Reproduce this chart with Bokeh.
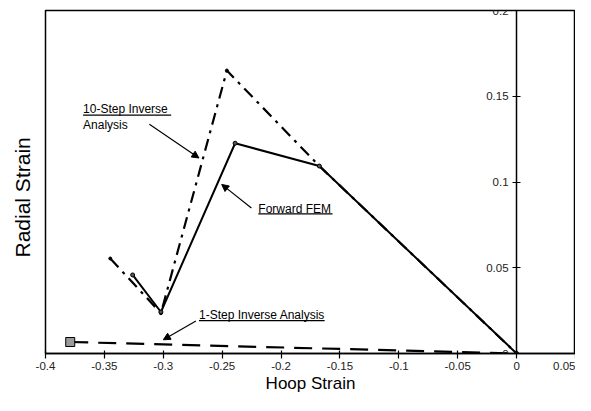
from bokeh.plotting import figure
from bokeh.models import LinearAxis, FixedTicker, Arrow, NormalHead, Range1d, Label, Title
from bokeh.embed import file_html
from bokeh.resources import INLINE

# ---- data ----
fem_x = [-0.326, -0.302, -0.239, -0.1675, 0.0]
fem_y = [0.0458, 0.0242, 0.1226, 0.1093, 0.0]

inv10_x = [-0.345, -0.302, -0.246, -0.1675, 0.0]
inv10_y = [0.0554, 0.0235, 0.165, 0.1093, 0.0]

inv1_x = [-0.379, -0.3, 0.0]
inv1_y = [0.0067, 0.0053, 0.0]

x_ticks = [-0.4, -0.35, -0.3, -0.25, -0.2, -0.15, -0.1, -0.05, 0.0, 0.05]
x_tick_labels = ["-0.4", "-0.35", "-0.3", "-0.25", "-0.2", "-0.15", "-0.1", "-0.05", "0", "0.05"]
y_ticks = [0.0, 0.05, 0.1, 0.15, 0.2]
y_tick_labels = ["0", "0.05", "0.1", "0.15", "0.2"]

# annotation texts and positions (data coordinates, text centre line)
ann_text = ["10-Step Inverse", "Analysis", "Forward FEM", "1-Step Inverse Analysis"]
ann_x = [-0.3681, -0.3681, -0.2193, -0.2697]
ann_y = [0.1424, 0.1330, 0.0845, 0.0226]
ul_x0 = [-0.3681, -0.2193, -0.2697]
ul_x1 = [-0.2933, -0.1563, -0.1630]
ul_y = [0.1390, 0.0814, 0.0192]
arr_x0 = [-0.3118, -0.2252, -0.2723]
arr_y0 = [0.1337, 0.0848, 0.0189]
arr_x1 = [-0.2697, -0.2504, -0.3000]
arr_y1 = [0.1140, 0.0986, 0.0080]

FONT = "Liberation Sans"
INK = "black"

p = figure(width=575, height=395,
           x_range=Range1d(-0.4, 0.05), y_range=Range1d(0, 0.2),
           output_backend="svg", toolbar_location=None,
           min_border_left=45, min_border_top=10, min_border_right=0, min_border_bottom=42)
p.xgrid.visible = False
p.ygrid.visible = False
p.outline_line_color = INK
p.outline_line_width = 1.5
p.background_fill_color = "white"
p.border_fill_color = "white"

# bottom axis
xa = p.xaxis[0]
xa.ticker = FixedTicker(ticks=x_ticks)
xa.major_label_overrides = {t: l for t, l in zip(x_ticks, x_tick_labels)}
xa.major_tick_in = 3
xa.major_tick_out = 5
xa.minor_tick_line_color = None
xa.axis_line_color = INK
xa.axis_line_width = 1.5
xa.major_tick_line_color = INK
xa.major_tick_line_width = 1.2
xa.major_label_text_font = FONT
xa.major_label_text_font_size = "11.5px"
xa.major_label_text_color = "#222222"
xa.major_label_standoff = 3
xa.axis_label = "Hoop Strain"
xa.axis_label_text_font = FONT
xa.axis_label_text_font_size = "17px"
xa.axis_label_text_font_style = "normal"
xa.axis_label_text_color = INK
xa.axis_label_standoff = 1

# left frame axis: no ticks, no labels
ya = p.yaxis[0]
ya.ticker = FixedTicker(ticks=[])
ya.major_tick_in = 0
ya.major_tick_out = 0
ya.minor_tick_line_color = None
ya.major_label_standoff = 0
ya.axis_line_color = None

# y axis at x = 0
y0 = LinearAxis(fixed_location=0, ticker=FixedTicker(ticks=y_ticks),
                major_label_overrides={t: l for t, l in zip(y_ticks, y_tick_labels)})
y0.major_tick_in = 4
y0.major_tick_out = 4
y0.minor_tick_line_color = None
y0.axis_line_color = INK
y0.axis_line_width = 1.5
y0.major_tick_line_color = INK
y0.major_tick_line_width = 1.2
y0.major_label_text_font = FONT
y0.major_label_text_font_size = "11.5px"
y0.major_label_text_color = "#222222"
y0.major_label_standoff = 4
p.add_layout(y0, "left")

# y title in the left panel
p.add_layout(Title(text="Radial Strain", align="left", offset=96, standoff=20,
                   vertical_align="top",
                   text_font=FONT, text_font_size="21px", text_font_style="normal",
                   text_color=INK), "left")

# series
p.line(inv1_x, inv1_y, line_color=INK, line_width=2.2, line_dash="18 10")
p.scatter(inv1_x[:1], inv1_y[:1], marker="square", size=9,
          fill_color="#9a9a9a", line_color=INK, line_width=1)

p.line(inv10_x, inv10_y, line_color=INK, line_width=2.2, line_dash="12 6 3 6")
p.scatter(inv10_x, inv10_y, marker="circle", size=3, fill_color=INK, line_color=INK)

p.line(fem_x, fem_y, line_color=INK, line_width=2)
p.scatter(fem_x, fem_y, marker="circle", size=4, fill_color="#555555", line_color=INK)

# annotations
for t, x, y in zip(ann_text, ann_x, ann_y):
    p.add_layout(Label(x=x, y=y, text=t, text_font=FONT, text_font_size="12px",
                       text_color=INK, text_baseline="middle", text_align="left"))
p.segment(ul_x0, ul_y, ul_x1, ul_y, line_color=INK, line_width=1.2)
for xs, ys, xe, ye in zip(arr_x0, arr_y0, arr_x1, arr_y1):
    p.add_layout(Arrow(end=NormalHead(size=7, fill_color=INK, line_color=INK),
                       x_start=xs, y_start=ys, x_end=xe, y_end=ye,
                       line_color=INK, line_width=1.2))

open("out.html", "w").write(file_html(p, INLINE))
